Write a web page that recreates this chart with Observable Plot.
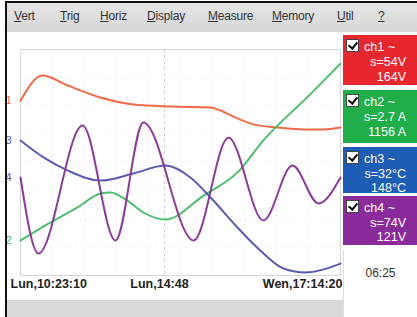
<!DOCTYPE html>
<html><head><meta charset="utf-8">
<script src="https://cdn.jsdelivr.net/npm/d3@7"></script>
<script src="https://cdn.jsdelivr.net/npm/@observablehq/plot@0.6"></script>
<style>
body{margin:0;background:#fff;font-family:"Liberation Sans",Arial,sans-serif}
#screen{position:relative;width:417px;height:317px;overflow:hidden;background:#fff}
#screen svg{position:absolute;left:0;top:0}
.abs{position:absolute}
.menu{position:absolute;top:9px;font-size:12px;color:#333;letter-spacing:-0.2px}
.box{position:absolute;left:343px;width:74px;color:#fff;font-size:12.5px}
.box .nm{position:absolute;left:21px;top:5px}
.box .ln{position:absolute;right:11px}
.chk{position:absolute;left:3px;top:4px;width:11px;height:11px;background:#fff;border:1px solid #444}
.chk:after{content:"";position:absolute;left:3px;top:0px;width:4px;height:7px;border:solid #111;border-width:0 2px 2px 0;transform:rotate(40deg)}
</style></head><body><div id="screen"></div>
<script>
// ---- data ----
const menuItems = ["Vert","Trig","Horiz","Display","Measure","Memory","Util","?"];
const timeLabels = ["Lun,10:23:10","Lun,14:48","Wen,17:14:20"];
const timeTicks = [0, 4.5, 10];
const channelIds = ["1","2","3","4"];
const channelNames = ["ch1 ~","ch2 ~","ch3 ~","ch4 ~"];
const channelScales = ["s=54V","s=2.7 A","s=32°C","s=74V"];
const channelReadings = ["164V","1156 A","148°C","121V"];
const cursorTime = "06:25";

const ch1X = [0,0.69,1.47,2.5,3.53,4.69,5.94,6.25,6.78,7.28,8.03,8.84,9.47,10];
const ch1Y = [6.19,7.08,6.73,6.30,6.05,5.98,5.95,5.84,5.56,5.35,5.24,5.17,5.17,5.24];
const ch2X = [0,0.94,1.78,2.5,2.81,3.34,3.84,4.53,5.72,6.78,7.59,9.06,10];
const ch2Y = [1.24,1.88,2.41,2.90,2.94,2.65,2.23,1.98,2.83,3.65,4.78,6.42,7.50];
const ch3X = [0,0.72,1.47,2.5,3.53,4.53,5.31,5.94,6.78,7.5,8.22,8.91,10];
const ch3Y = [4.78,4.18,3.72,3.36,3.61,3.89,3.47,2.76,1.70,0.88,0.25,0.11,0.42];
const ch4X = [0,0.56,1.94,2.97,3.84,5.41,6.5,7.59,8.5,9.31,10];
const ch4Y = [3.47,0.78,5.31,1.24,5.42,1.24,4.88,1.95,3.89,2.55,3.47];

// ---- layout / style ----
const traceColors = ["#f06a48","#4dbd6c","#5a5cb0","#8b3b98"];
const boxColors = ["#e8262e","#20ae4a","#1e5db5","#8b2b9b"];
const menuX = [14,60,100,147,208,272,337,378];
const boxTops = [35,90,147,196];
const boxHeights = [50,53,46,49];

const series = [[ch1X,ch1Y],[ch2X,ch2Y],[ch3X,ch3Y],[ch4X,ch4Y]].map(([xs,ys],i)=>
  xs.map((x,j)=>({x, y: ys[j], ch: channelIds[i]})));

const screen = document.getElementById("screen");

const marks = [
  Plot.ruleX(d3.range(1,10), {stroke:"#eeeeee", strokeDasharray:"2,3"}),
  Plot.ruleY(d3.range(1,8), {stroke:"#f2f2f2", strokeDasharray:"2,3"}),
  Plot.ruleX([timeTicks[1]], {stroke:"#cfcfcf", strokeDasharray:"3,3"}),
  Plot.frame({stroke:"#d8d8d8"}),
];
series.forEach((s,i)=>{
  marks.push(Plot.line(s, {x:"x", y:"y", curve:"monotone-x", stroke:traceColors[i], strokeWidth:2}));
  marks.push(Plot.text([s[0]], {x:"x", y:"y", text:"ch", dx:-12, fill:traceColors[i], fontSize:11, textAnchor:"middle"}));
});
const anchors = ["start","middle","end"];
const dxs = [-10,-5,2];
timeTicks.forEach((t,i)=>{
  marks.push(Plot.text([{x:t, label:timeLabels[i]}], {x:"x", text:"label", frameAnchor:"bottom", dy:12, dx:dxs[i], textAnchor:anchors[i], fill:"#222", fontSize:12.5, fontWeight:"bold"}));
});

const chart = Plot.plot({
  width:345, height:317,
  marginLeft:20, marginRight:5, marginTop:49, marginBottom:42,
  x:{domain:[0,10], axis:null},
  y:{domain:[0,8], axis:null},
  style:{background:"transparent", fontFamily:"'Liberation Sans',Arial,sans-serif", overflow:"visible"},
  marks
});
screen.appendChild(chart);

function div(css, html){const d=document.createElement("div");d.className="abs";d.style.cssText=css;if(html!==undefined)d.innerHTML=html;screen.appendChild(d);return d;}
// frame borders and bars
div("left:5px;top:1px;width:412px;height:2px;background:#111");
div("left:5px;top:1px;width:2px;height:316px;background:#111");
div("left:7px;top:3px;width:410px;height:29px;background:linear-gradient(#e6e6e6,#d6d6d6)");
div("left:7px;top:300px;width:336px;height:17px;background:#d9d9d9");
div("left:343px;top:250px;width:1px;height:67px;background:#dcdcdc");
menuItems.forEach((m,i)=>{
  const d=document.createElement("div");d.className="menu";d.style.left=menuX[i]+"px";
  d.innerHTML="<u>"+m[0]+"</u>"+m.slice(1);screen.appendChild(d);
});
channelIds.forEach((c,i)=>{
  const b=div("left:343px;top:"+boxTops[i]+"px;width:74px;height:"+boxHeights[i]+"px;background:"+boxColors[i]);
  b.className="box";
  const lineGap = i<2?15:14.5;
  b.innerHTML='<div class="chk"></div><div class="nm">'+channelNames[i]+'</div>'+
    '<div class="ln" style="top:'+(5+lineGap)+'px">'+channelScales[i]+'</div>'+
    '<div class="ln" style="top:'+(5+2*lineGap)+'px">'+channelReadings[i]+'</div>';
});
div("left:344px;top:266px;width:73px;text-align:center;font-size:12px;color:#333", cursorTime);
</script>
</body></html>
